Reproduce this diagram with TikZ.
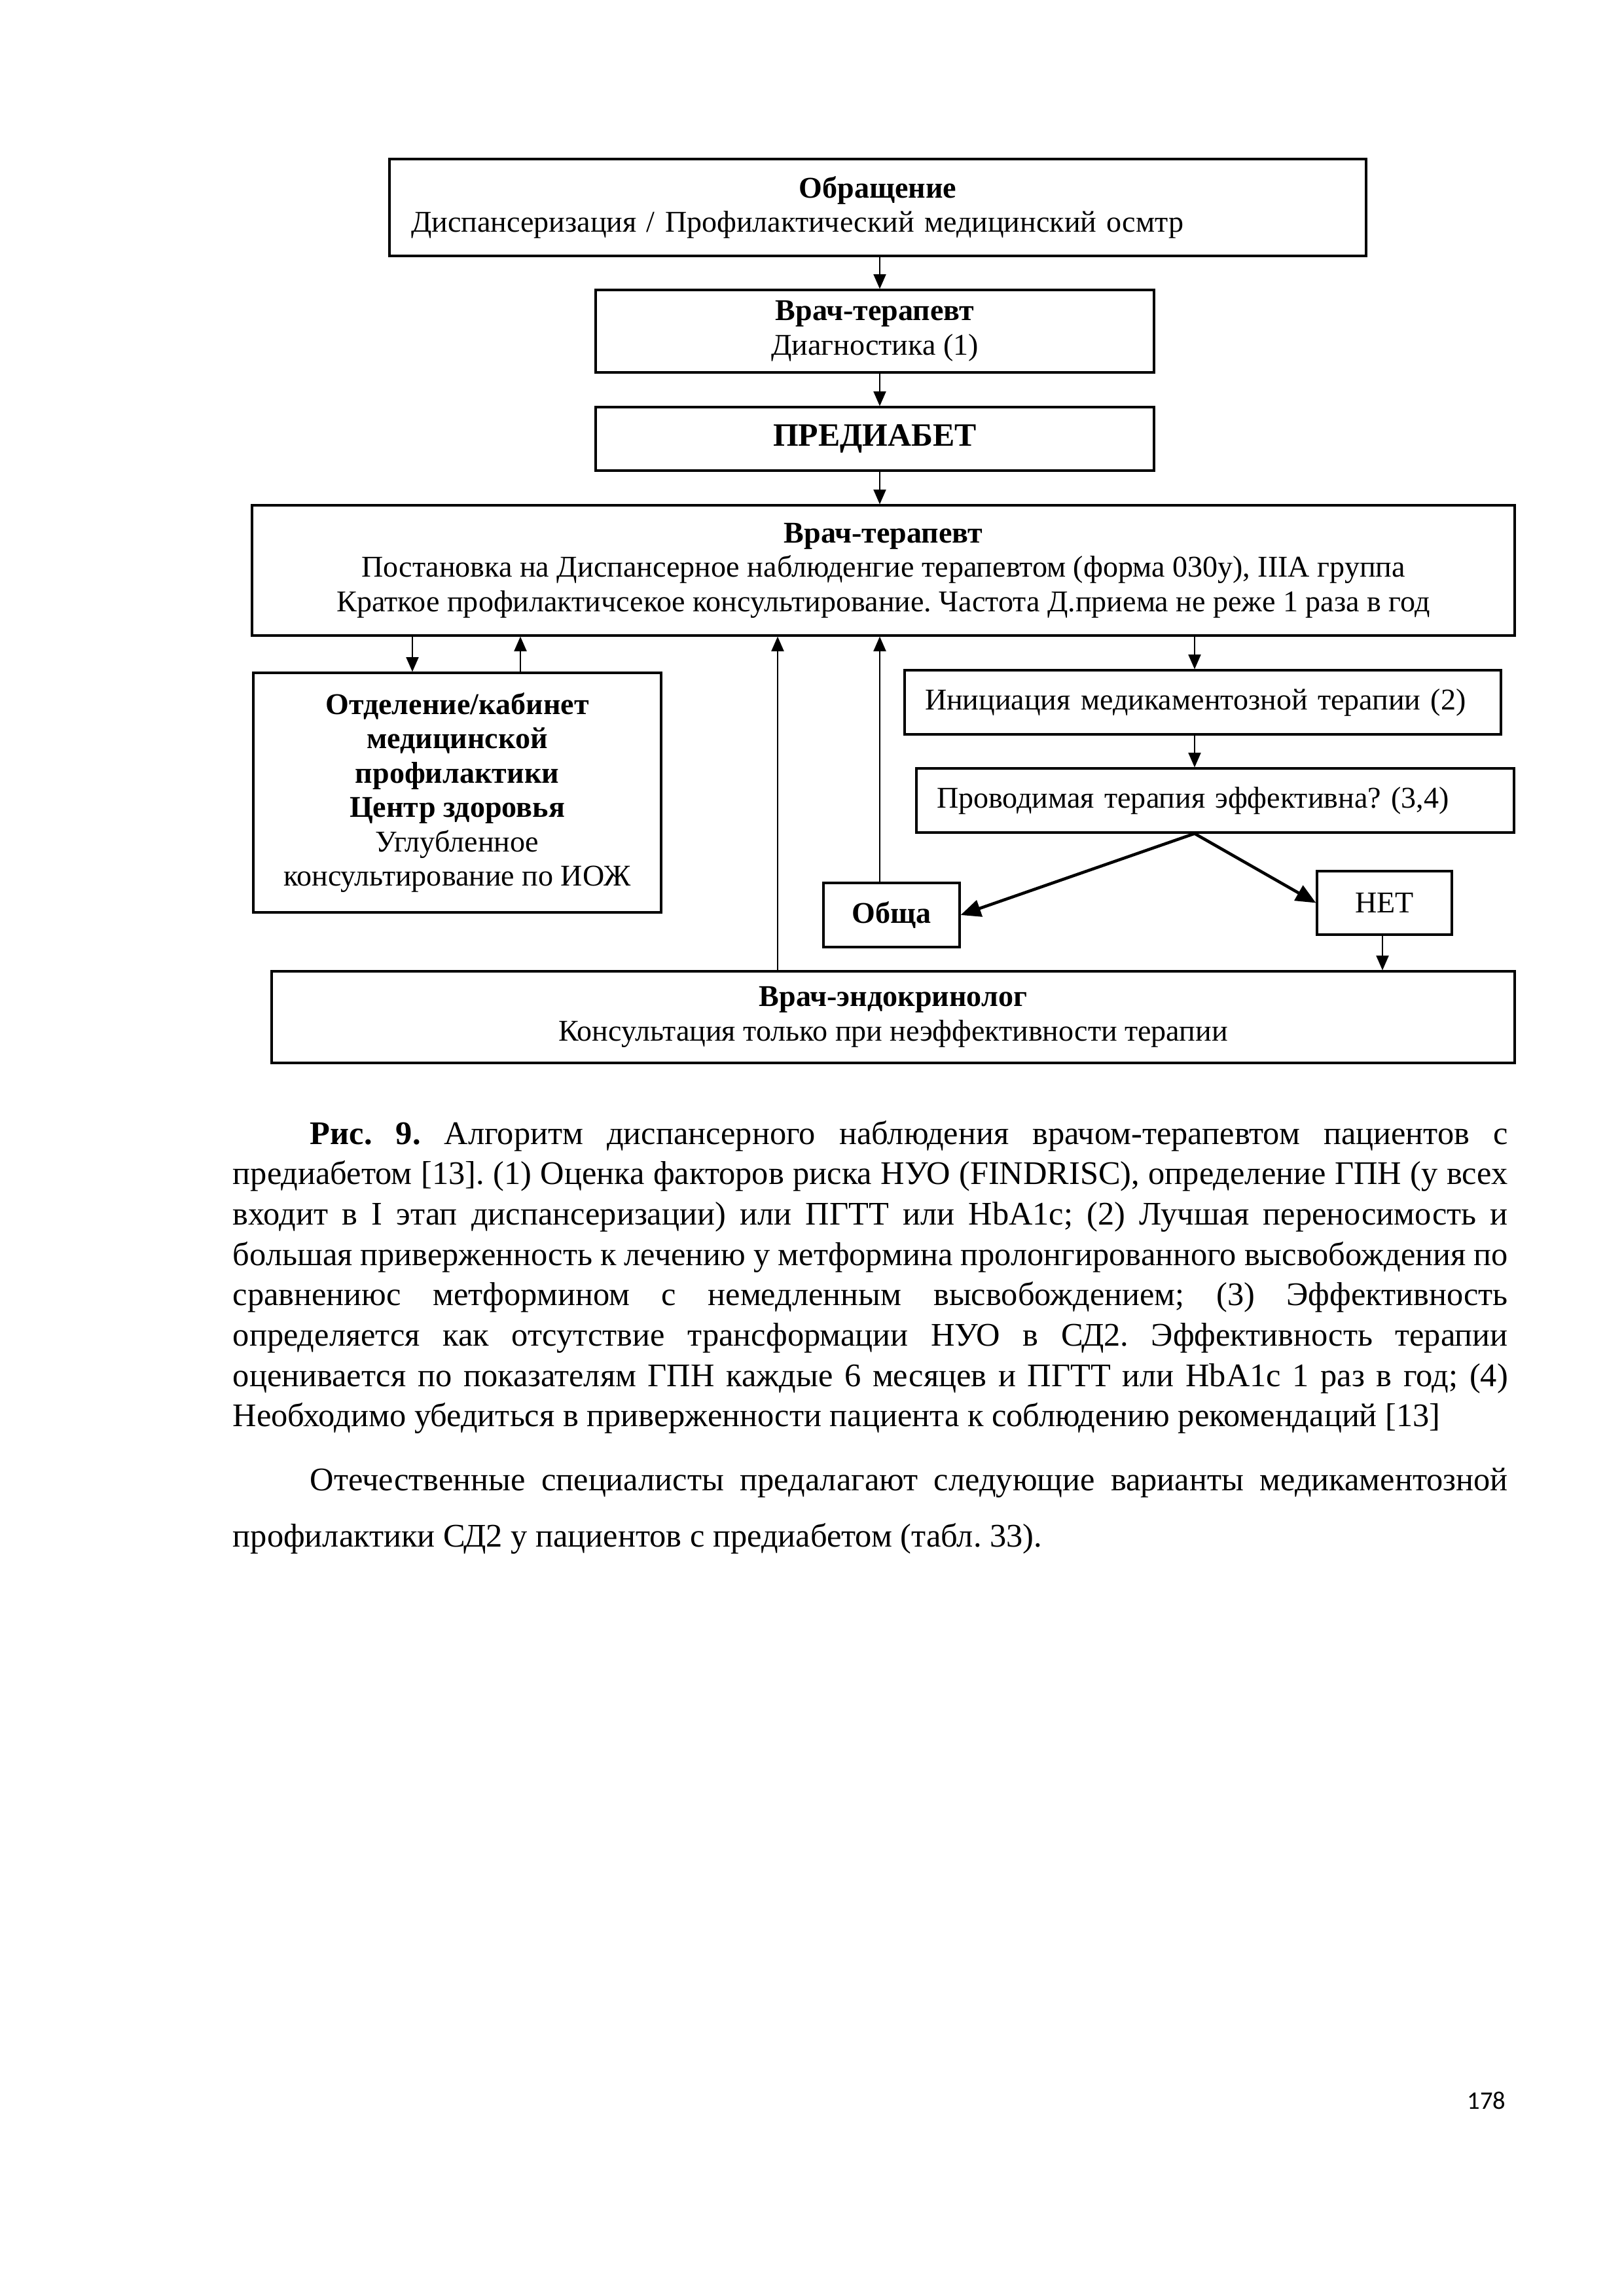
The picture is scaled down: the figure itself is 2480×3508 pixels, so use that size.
\documentclass[tikz,border=0pt]{standalone}
\usepackage{fontspec}
\setmainfont{Liberation Serif}
\newfontfamily\pagefont{Carlito}
\usetikzlibrary{positioning, arrows.meta, calc}
\newlength\pxu
\setlength\pxu{0.0084677cm}
\newlength\capw
\setlength\capw{1948\pxu}
\frenchspacing
\newcommand\diafont{\fontsize{11.1}{12.65}\selectfont}
\newcommand\capfont{\fontsize{12.15}{14.85}\selectfont}

\begin{document}
\begin{tikzpicture}[
    x=0.0084677cm, y=-0.0084677cm,
    box/.style={draw, line width=0.75pt, inner xsep=0pt, inner ysep=0pt, align=center, font=\diafont},
    arrow/.style={-{Triangle[length=1.9mm, width=1.6mm]}, line width=0.6pt},
    bigarrow/.style={-{Triangle[length=2.6mm, width=2.2mm]}, line width=1.1pt},
    capline/.style={anchor=base west, inner sep=0pt, font=\capfont}
]
\useasboundingbox (0,0) rectangle (2480,3508);

% Boxes
\node[box, minimum width=1492\pxu, minimum height=148\pxu, align=left, text width=1426\pxu] (obr) at (1341,317) {{\centering\textbf{Обращение}\par}Диспансеризация / Профилактический медицинский осмтр};
\node[box, minimum width=853\pxu, minimum height=126\pxu] (diag) at (1336.5,506) {\textbf{Врач-терапевт}\\Диагностика (1)};
\node[box, minimum width=853\pxu, minimum height=97\pxu, font=\fontsize{12}{13}\selectfont\bfseries] (pred) at (1336.5,670.5) {ПРЕДИАБЕТ};
\node[box, minimum width=1929\pxu, minimum height=199\pxu] (ter) at (1349.5,871.5) {\textbf{Врач-терапевт}\\Постановка на Диспансерное наблюденгие терапевтом (форма 030у), IIIA группа\\Краткое профилактичсекое консультирование. Частота Д.приема не реже 1 раза в год};
\node[box, minimum width=623\pxu, minimum height=366\pxu] (otd) at (698.5,1211) {\textbf{Отделение/кабинет}\\\textbf{медицинской}\\\textbf{профилактики}\\\textbf{Центр здоровья}\\Углубленное\\консультирование по ИОЖ};
\node[box, align=left, text width=849\pxu, inner xsep=31\pxu, minimum height=98\pxu] (init) at (1837.5,1073) {Инициация медикаментозной терапии (2)};
\node[box, align=left, text width=851\pxu, inner xsep=31\pxu, minimum height=98\pxu] (eff) at (1856.5,1223) {Проводимая терапия эффективна? (3,4)};
\node[box, minimum width=208\pxu, minimum height=98\pxu, font=\diafont\bfseries] (obsh) at (1362,1398) {Обща};
\node[box, minimum width=206\pxu, minimum height=97\pxu] (net) at (2115,1379.5) {НЕТ};
\node[box, minimum width=1899\pxu, minimum height=140\pxu] (endo) at (1364.5,1554) {\textbf{Врач-эндокринолог}\\Консультация только при неэффективности терапии};

% Connector columns
\coordinate (xm) at (1344,0);
\coordinate (xa) at (630,0);
\coordinate (xb) at (795,0);
\coordinate (xc) at (1188,0);
\coordinate (xd) at (1825,0);
\coordinate (xe) at (2112,0);

% Arrows
\draw[arrow] (obr.south -| xm) -- (diag.north -| xm);
\draw[arrow] (diag.south -| xm) -- (pred.north -| xm);
\draw[arrow] (pred.south -| xm) -- (ter.north -| xm);
\draw[arrow] (ter.south -| xa) -- (otd.north -| xa);
\draw[arrow] (otd.north -| xb) -- (ter.south -| xb);
\draw[arrow] (endo.north -| xc) -- (ter.south -| xc);
\draw[arrow] (obsh.north -| xm) -- (ter.south -| xm);
\draw[arrow] (ter.south -| xd) -- (init.north -| xd);
\draw[arrow] (init.south -| xd) -- (eff.north -| xd);
\draw[bigarrow] (eff.south -| xd) -- (obsh.east);
\draw[bigarrow] (eff.south -| xd) -- (net.west);
\draw[arrow] (net.south -| xe) -- (endo.north -| xe);

% Caption
\node[capline] (cap1) at (473,1748) {\makebox[1830\pxu][s]{\textbf{Рис. 9.} Алгоритм диспансерного наблюдения врачом-терапевтом пациентов с}};
\foreach \txt [count=\i from 2] in {
    {предиабетом [13]. (1) Оценка факторов риска НУО (FINDRISC), определение ГПН (у всех},
    {входит в I этап диспансеризации) или ПГТТ или HbA1c; (2) Лучшая переносимость и},
    {большая приверженность к лечению у метформина пролонгированного высвобождения по},
    {сравнениюс метформином с немедленным высвобождением; (3) Эффективность},
    {определяется как отсутствие трансформации НУО в СД2. Эффективность терапии},
    {оценивается по показателям ГПН каждые 6 месяцев и ПГТТ или HbA1c 1 раз в год; (4)}}
    \node[capline] (cap\i) at (355,{1748+61.7*(\i-1)}) {\makebox[\capw][s]{\txt}};
\node[capline] (cap8) at (355,{1748+61.7*7}) {Необходимо убедиться в приверженности пациента к соблюдению рекомендаций [13]};

% Following paragraph
\node[capline] (par1) at (473,2277) {\makebox[1830\pxu][s]{Отечественные специалисты предалагают следующие варианты медикаментозной}};
\node[capline] (par2) at (355,2363.5) {профилактики СД2 у пациентов с предиабетом (табл. 33).};

% Page number
\node[anchor=base east, inner sep=0pt, font=\pagefont\fontsize{9.3}{11}\selectfont] (pnum) at (2301,3222) {178};
\end{tikzpicture}
\end{document}
